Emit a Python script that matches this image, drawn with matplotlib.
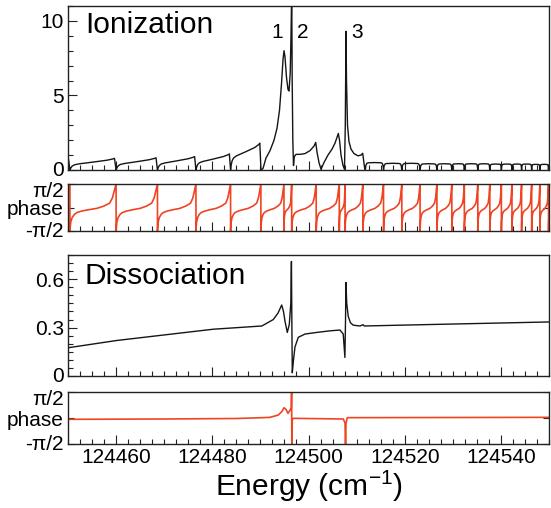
import numpy as np
import matplotlib
matplotlib.use("Agg")
import matplotlib.pyplot as plt
import matplotlib.transforms as mtransforms
from matplotlib.ticker import MultipleLocator, FixedLocator

plt.rcParams['font.family'] = ['Liberation Sans', 'DejaVu Sans']
plt.rcParams['mathtext.fontset'] = 'custom'
plt.rcParams['mathtext.rm'] = 'Liberation Sans'

# ---------------- data ----------------
# energies of the phase jumps (upper phase panel)
jump_E = [124441.0, 124450.4, 124460.0, 124468.6, 124476.6, 124483.8, 124490.1,
          124494.9, 124496.5, 124501.6, 124506.4, 124507.6, 124511.3, 124515.6,
          124519.4, 124523.2, 124526.7, 124529.8, 124532.4, 124535.2, 124537.7,
          124540.1, 124542.3, 124544.3, 124546.4, 124548.1, 124549.9, 124551.5]
# shape of one phase branch (fraction of segment -> phase in rad)
phase_t = [0, 0.008, 0.02, 0.05, 0.1, 0.15, 0.25, 0.4, 0.58, 0.74, 0.86, 0.92, 0.96, 0.985, 1.0]
phase_v = [-1.571, -1.25, -0.95, -0.66, -0.45, -0.34, -0.24, -0.15, -0.06, 0.10,
           0.29, 0.64, 1.10, 1.40, 1.571]

# ionization: regular window segments below 124490 cm-1
ion_seg_E = [124441.0, 124450.4, 124460.0, 124468.6, 124476.6, 124483.8, 124490.1]
ion_seg_peak = [0.8, 0.78, 0.82, 0.9, 1.08, 1.8]
ion_t = [0, 0.02, 0.05, 0.1, 0.2, 0.5, 0.8, 0.93, 0.965, 1.0]
ion_f = [0, 0.18, 0.34, 0.45, 0.53, 0.68, 0.84, 0.95, 1.0, 0.0]

# ionization: resonances 1, 2, 3
ion_res_E = [124490.12, 124490.54, 124491.16, 124492.00, 124492.83, 124493.45, 124493.97,
             124494.39, 124494.70, 124494.91, 124495.11, 124495.43, 124495.74, 124495.95,
             124496.20, 124496.36, 124496.51, 124496.61, 124496.74, 124496.88, 124497.05,
             124497.40, 124498.23, 124499.27, 124500.31, 124501.14, 124501.50, 124501.77,
             124502.18, 124502.60, 124503.22, 124504.05, 124504.89, 124505.51, 124505.93,
             124506.20, 124506.45, 124506.76, 124507.17, 124507.48, 124507.65, 124507.80,
             124507.90, 124508.11, 124508.42, 124508.84, 124509.46, 124510.29, 124510.91,
             124511.27, 124511.43, 124511.64, 124511.81]
ion_res_v = [0, 0.1, 0.8, 1.3, 2.0, 2.8, 4.0, 5.8, 7.4, 8.0,
             7.6, 6.2, 5.4, 5.3, 6.5, 9.0, 12.0, 6.0, 2.0, 0.3,
             0.9, 1.05, 1.05, 1.1, 1.3, 1.6, 1.85, 1.2, 0.5, 0.05,
             0.5, 1.0, 1.4, 1.8, 2.2, 2.45, 2.0, 1.0, 0.3, 0.05,
             3.0, 9.3, 6.0, 3.0, 1.9, 1.4, 1.1, 0.95, 1.0, 1.12,
             0.7, 0.2, 0.0]

# ionization: small humps above 124511.8 cm-1
hump_E = [124511.81, 124515.6, 124519.4, 124523.2, 124526.7, 124529.8, 124532.4, 124535.2,
          124537.7, 124540.1, 124542.3, 124544.3, 124546.4, 124548.1, 124549.9, 124551.5]
hump_h = [0.5, 0.45, 0.45, 0.42, 0.42, 0.42, 0.42, 0.42, 0.4, 0.4, 0.4, 0.4, 0.38, 0.38, 0.38]
hump_t = [0, 0.03, 0.08, 0.15, 0.5, 0.85, 0.93, 0.97, 1.0]
hump_f = [0, 0.6, 0.88, 0.96, 1.0, 0.97, 0.9, 0.6, 0.0]

# dissociation
dis_E = [124450.0, 124460.1, 124480.2, 124490.3, 124492.68, 124493.66, 124494.43, 124494.80,
         124495.11, 124495.59, 124496.01, 124496.32, 124496.45, 124496.55, 124496.63, 124496.88,
         124497.19, 124497.88, 124499.27, 124501.70, 124504.46, 124506.54, 124507.22, 124507.57,
         124507.70, 124507.78, 124507.95, 124508.26, 124508.72, 124509.30, 124510.70, 124511.33,
         124511.60, 124519.0, 124550.0]
dis_v = [0.175, 0.22, 0.29, 0.31, 0.35, 0.39, 0.44, 0.40, 0.34, 0.27,
         0.32, 0.45, 0.71, 0.30, 0.02, 0.10, 0.18, 0.24, 0.26, 0.27,
         0.28, 0.285, 0.26, 0.115, 0.35, 0.58, 0.45, 0.37, 0.33, 0.315,
         0.31, 0.318, 0.31, 0.315, 0.335]

# dissociation phase
ph2_E = [124450.0, 124470.0, 124485.0, 124490.5, 124492.0, 124493.72, 124494.43, 124494.91,
         124495.32, 124495.74, 124496.09, 124496.42, 124496.49, 124496.53, 124496.63, 124496.84,
         124507.24, 124507.59, 124507.70, 124507.80, 124508.07, 124550.0]
ph2_v = [-0.08, -0.06, -0.03, 0.02, 0.04, 0.18, 0.38, 0.62, 0.52, 0.28, 0.44, 0.6,
         1.7, -1.7, -0.1, -0.02, -0.06, -0.3, -1.7, -0.3, 0.02, 0.04]

res_labels = ['1', '2', '3']
res_label_E = [124493.45, 124498.86, 124510.08]
res_label_y = 9.2
xticks = [124460, 124480, 124500, 124520, 124540]

# ---------------- assemble curves from segments ----------------
def build(bounds, t, f, scale=None):
    xs, ys = [], []
    for i in range(len(bounds) - 1):
        a, b = bounds[i], bounds[i + 1]
        s = 1.0 if scale is None else scale[i]
        xs.extend(a + np.asarray(t) * (b - a))
        ys.extend(np.asarray(f) * s)
    return np.array(xs), np.array(ys)

ph1_x, ph1_y = build(jump_E, phase_t, phase_v)
reg_x, reg_y = build(ion_seg_E, ion_t, ion_f, ion_seg_peak)
hmp_x, hmp_y = build(hump_E, hump_t, hump_f, hump_h)
ion_x = np.concatenate([reg_x, ion_res_E, hmp_x])
ion_y = np.concatenate([reg_y, ion_res_v, hmp_y])

# ---------------- figure ----------------
W, H = 551, 508
fig = plt.figure(figsize=(W / 100, H / 100), dpi=100)

def box(l, t, r, b):
    return [l / W, 1 - b / H, (r - l) / W, (b - t) / H]

ax1 = fig.add_axes(box(68, 6, 549, 170))
ax2 = fig.add_axes(box(68, 184, 549, 231))
ax3 = fig.add_axes(box(68, 255, 549, 376))
ax4 = fig.add_axes(box(68, 392, 549, 444))

black = '#151515'
red = '#ef4423'
tfs = 15

for ax in (ax1, ax2, ax3, ax4):
    ax.set_xlim(124450, 124550)
    ax.xaxis.set_major_locator(FixedLocator(xticks))
    ax.xaxis.set_minor_locator(MultipleLocator(2.5))
    for s in ax.spines.values():
        s.set_linewidth(1.0)
        s.set_color('#222222')
    ax.tick_params(which='both', direction='in', top=False, right=False,
                   width=0.8, color='#222222', labelsize=tfs, pad=3)
    ax.tick_params(which='major', length=6.5)
    ax.tick_params(which='minor', length=3.3)
    if ax is not ax4:
        ax.tick_params(axis='x', labelbottom=False)

ax1.plot(ion_x, ion_y, color=black, lw=1.0)
ax1.set_ylim(0, 11)
ax1.yaxis.set_major_locator(FixedLocator([0, 5, 10]))
ax1.yaxis.set_minor_locator(MultipleLocator(1))
ax1.text(124453.5, 9.75, 'Ionization', fontsize=21.5, va='center', ha='left')
for lab, e in zip(res_labels, res_label_E):
    ax1.text(e, res_label_y, lab, fontsize=15, ha='center', va='center')

for ax in (ax2, ax4):
    ax.set_ylim(-np.pi / 2, np.pi / 2)
    ax.set_yticks([-np.pi / 2, 0, np.pi / 2])
    ax.set_yticklabels(['-π/2', 'phase', 'π/2'])
    ax.yaxis.set_minor_locator(FixedLocator([]))
    ax.tick_params(axis='y', right=True, length=4)

ax2.plot(ph1_x, ph1_y, color=red, lw=1.2)
ax4.plot(ph2_E, ph2_v, color=red, lw=1.2)

ax3.plot(dis_E, dis_v, color=black, lw=1.0)
ax3.set_ylim(0, 0.75)
ax3.yaxis.set_major_locator(FixedLocator([0, 0.3, 0.6]))
ax3.set_yticklabels(['0', '0.3', '0.6'])
ax3.yaxis.set_minor_locator(MultipleLocator(0.05))
ax3.text(124453.5, 0.62, 'Dissociation', fontsize=21.5, va='center', ha='left')

ax4.set_xticklabels([str(v) for v in xticks])
fig.text(308.5 / W, 1 - 486 / H, r'Energy (cm$^{\mathregular{-1}}$)', fontsize=21.5,
         ha='center', va='center')

# nudge the phase-axis end labels so they sit like the reference
fig.canvas.draw()
shift_dn = mtransforms.ScaledTranslation(0, -4 / 72, fig.dpi_scale_trans)
shift_up = mtransforms.ScaledTranslation(0, 1 / 72, fig.dpi_scale_trans)
for ax in (ax2, ax4):
    labs = ax.get_yticklabels()
    labs[2].set_transform(labs[2].get_transform() + shift_dn)
    labs[0].set_transform(labs[0].get_transform() + shift_up)
for ax in (ax1, ax3):
    labs = ax.get_yticklabels()
    labs[0].set_transform(labs[0].get_transform() + shift_up)

fig.savefig('out.png', dpi=100)
